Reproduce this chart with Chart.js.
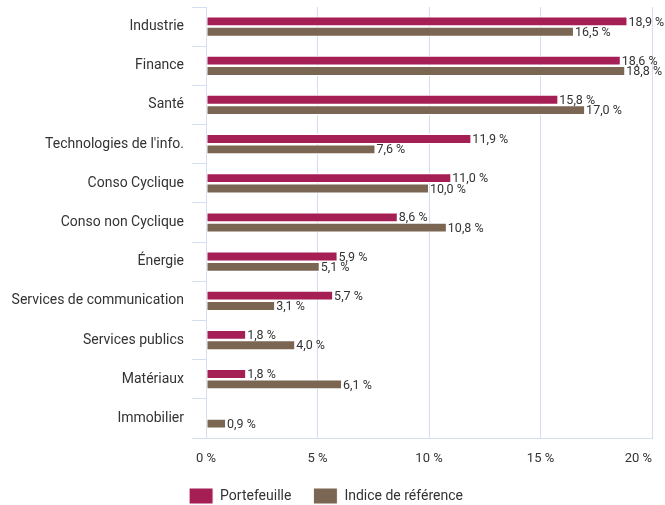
<!DOCTYPE html>
<html>
<head>
<meta charset="utf-8">
<script src="https://cdn.jsdelivr.net/npm/chart.js@4"></script>
<style>
  body { margin: 0; background: #fff; }
  #wrap { width: 665px; height: 505px; }
</style>
</head>
<body>
<div id="wrap"><canvas id="sectorChart" width="665" height="505"></canvas></div>
<script>
// Sector weights (%)
const sectors = ['Industrie', 'Finance', 'Santé', "Technologies de l'info.", 'Conso Cyclique',
  'Conso non Cyclique', 'Énergie', 'Services de communication', 'Services publics', 'Matériaux', 'Immobilier'];
const portfolio = [18.9, 18.6, 15.8, 11.9, 11.0, 8.6, 5.9, 5.7, 1.8, 1.8, 0];
const benchmark = [16.5, 18.8, 17.0, 7.6, 10.0, 10.8, 5.1, 3.1, 4.0, 6.1, 0.9];
const xTicks = [0, 5, 10, 15, 20];

const gridColor = '#d5deee';
const textColor = '#333333';

function fmt(v) {
    return v.toFixed(1).replace('.', ',') + ' %';
}

// Value labels at the end of each bar + x tick labels (last one kept inside the canvas)
const valueLabels = {
    id: 'valueLabels',
    beforeInit(chart) {
        // tighten legend height so it sits at the bottom edge
        const fit = chart.legend.fit;
        chart.legend.fit = function() {
            fit.bind(chart.legend)();
            this.height = 39;
        };
    },
    afterDatasetsDraw(chart) {
        const ctx = chart.ctx;
        ctx.save();
        ctx.font = '12.5px Roboto';
        ctx.fillStyle = textColor;
        ctx.textBaseline = 'middle';
        ctx.textAlign = 'left';
        chart.data.datasets.forEach((ds, i) => {
            chart.getDatasetMeta(i).data.forEach((bar, j) => {
                const v = ds.data[j];
                if (!v) return;
                ctx.fillText(fmt(v), bar.x + 1, bar.y + 1);
            });
        });

        const xs = chart.scales.x;
        ctx.font = '13px Roboto';
        xTicks.forEach((t, i) => {
            ctx.textAlign = i === xTicks.length - 1 ? 'right' : 'center';
            ctx.fillText(t + ' %', xs.getPixelForValue(t), chart.chartArea.bottom + 21);
        });
        ctx.restore();
    }
};

document.addEventListener('DOMContentLoaded', function() {
    const ctx = document.getElementById('sectorChart').getContext('2d');
    new Chart(ctx, {
        type: 'bar',
        data: {
            labels: sectors,
            datasets: [{
                label: 'Portefeuille',
                data: portfolio,
                backgroundColor: '#a51f55',
                borderColor: '#ffffff',
                borderWidth: 1,
                borderSkipped: false,
                barPercentage: 0.95,
                categoryPercentage: 0.53
            }, {
                label: 'Indice de référence',
                data: benchmark,
                backgroundColor: '#7a6652',
                borderColor: '#ffffff',
                borderWidth: 1,
                borderSkipped: false,
                barPercentage: 0.95,
                categoryPercentage: 0.53
            }]
        },
        options: {
            indexAxis: 'y',
            responsive: false,
            animation: false,
            layout: { padding: { top: 7, right: 13, left: 0, bottom: 0 } },
            scales: {
                x: {
                    min: 0,
                    max: 20,
                    afterBuildTicks: (axis) => { axis.ticks = xTicks.map(v => ({ value: v })); },
                    afterFit: (scale) => {
                        scale.height = 28;
                        scale.paddingLeft = 0;
                        scale.paddingRight = 0;
                    },
                    grid: { color: gridColor, drawTicks: false },
                    border: { color: gridColor },
                    ticks: { display: false }
                },
                y: {
                    afterFit: (scale) => {
                        scale.width = 206;
                        scale.paddingTop = 0;
                        scale.paddingBottom = 0;
                    },
                    grid: { color: gridColor, drawOnChartArea: false, tickLength: 14 },
                    border: { color: gridColor },
                    ticks: {
                        color: textColor,
                        font: { family: 'Roboto', size: 14 },
                        padding: 8
                    }
                }
            },
            plugins: {
                legend: {
                    position: 'bottom',
                    labels: {
                        boxWidth: 24,
                        boxHeight: 16,
                        padding: 22,
                        color: textColor,
                        font: { family: 'Roboto', size: 14 }
                    }
                },
                tooltip: { enabled: false }
            }
        },
        plugins: [valueLabels]
    });
});
</script>
</body>
</html>
